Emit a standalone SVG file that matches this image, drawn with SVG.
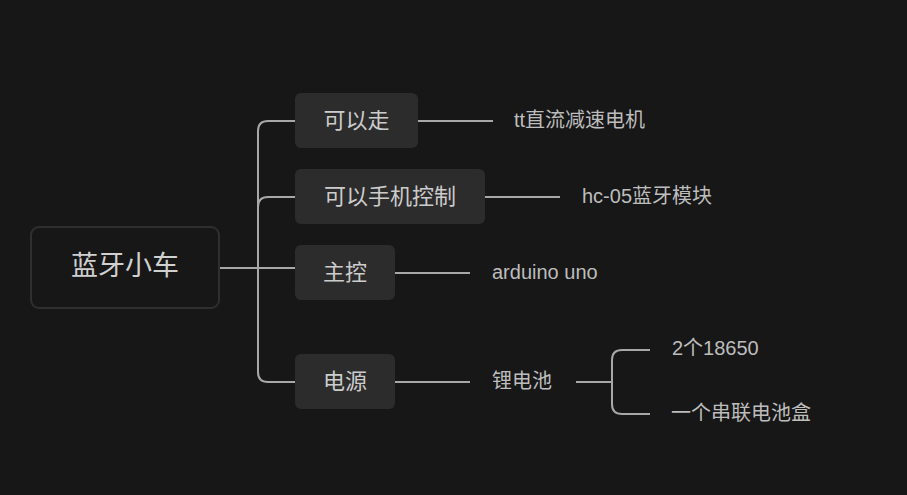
<svg xmlns="http://www.w3.org/2000/svg" width="907" height="495" viewBox="0 0 907 495">
<style>
.bg{fill:#171717}
.box{fill:#2c2c2c}
.root{fill:#171717;stroke:#2f2f2f;stroke-width:2}
.ln{fill:none;stroke:#a8a8a8;stroke-width:2;stroke-linecap:butt}
text{font-family:"Liberation Sans","Noto Sans CJK SC",sans-serif;dominant-baseline:central}
.t0{font-size:27px;fill:#d0d0d0;text-anchor:middle}
.t1{font-size:22px;fill:#cccccc;text-anchor:middle}
.t2{font-size:20px;fill:#bdbdbd}
</style>
<rect class="bg" x="0" y="0" width="907" height="495"/>
<g id="connectors">
<path class="ln" d="M220 268 H295"/>
<path class="ln" d="M295 121 H268 Q258 121 258 131 V372 Q258 382 268 382 H295"/>
<path class="ln" d="M295 197 H268 Q258 197 258 207"/>
<path class="ln" d="M418 121 H493"/>
<path class="ln" d="M485 197 H560"/>
<path class="ln" d="M395 273 H470"/>
<path class="ln" d="M395 382 H470"/>
<path class="ln" d="M576 382 H612"/>
<path class="ln" d="M650 350 H622 Q612 350 612 360 V404 Q612 414 622 414 H650"/>
</g>
<g id="root"><rect class="root" x="31" y="227" width="188" height="81" rx="8"/><text class="t0" x="125" y="266">蓝牙小车</text></g>
<g id="n1"><rect class="box" x="295" y="93" width="123" height="55" rx="6"/><text class="t1" x="356.5" y="120">可以走</text></g>
<g id="n2"><rect class="box" x="295" y="169" width="190" height="55" rx="6"/><text class="t1" x="390" y="196">可以手机控制</text></g>
<g id="n3"><rect class="box" x="295" y="245" width="100" height="55" rx="6"/><text class="t1" x="345" y="272">主控</text></g>
<g id="n4"><rect class="box" x="295" y="354" width="100" height="55" rx="6"/><text class="t1" x="345" y="381">电源</text></g>
<g id="l1"><text class="t2" x="514" y="120">tt直流减速电机</text></g>
<g id="l2"><text class="t2" x="582" y="196">hc-05蓝牙模块</text></g>
<g id="l3"><text class="t2" x="492" y="272">arduino uno</text></g>
<g id="l4"><text class="t2" x="492" y="381">锂电池</text></g>
<g id="l5"><text class="t2" x="672" y="348">2个18650</text></g>
<g id="l6"><text class="t2" x="671" y="413">一个串联电池盒</text></g>
</svg>
